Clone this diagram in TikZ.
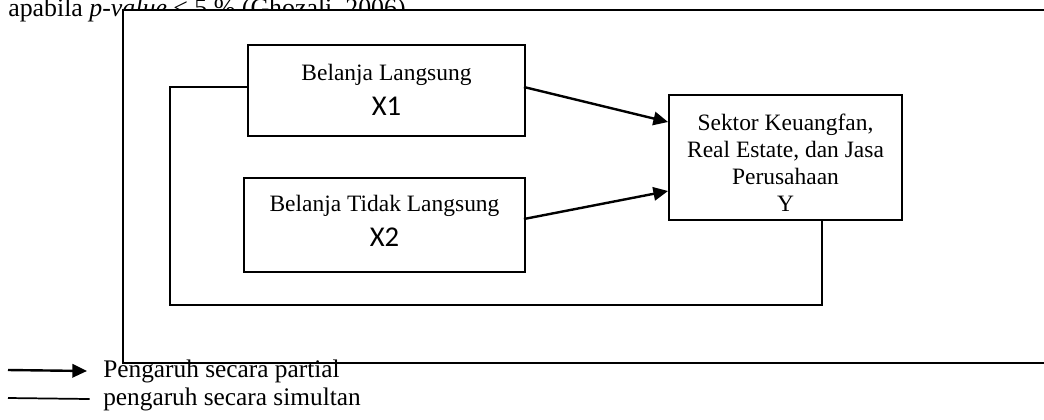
\documentclass[tikz,border=0pt]{standalone}
\usepackage{fontspec}
\setmainfont{Liberation Serif}
\newfontfamily\calib{Carlito}
\usetikzlibrary{arrows.meta,calc}
\begin{document}
\begin{tikzpicture}[x=0.75pt,y=-0.75pt,
  box/.style={draw,line width=1.4pt,inner sep=0pt},
  txt/.style={align=center,inner sep=0pt,font=\fontsize{17.6}{20.3}\selectfont},
  conn/.style={line width=1.3pt},
  arr/.style={line width=1.8pt,-{Triangle[length=11pt,width=10pt]}},
  legtext/.style={anchor=west,inner sep=0pt,font=\fontsize{19}{22}\selectfont}]
\useasboundingbox (0,0) rectangle (1044,419);
% top text (partly hidden by the frame)
\node[anchor=base west,inner sep=0pt,font=\fontsize{19.4}{22}\selectfont] (top) at (8,16.5)
  {apabila \textit{p-value} < 5 \% (Ghozali, 2006)};
% frame
\draw[line width=1.4pt,fill=white] (123,10) rectangle (1060,363);
% boxes
\node[box,minimum width=277*0.75pt,minimum height=91*0.75pt] (x1) at (386.5,90.5) {};
\node[box,minimum width=281*0.75pt,minimum height=94*0.75pt] (x2) at (384.5,225) {};
\node[box,minimum width=233*0.75pt,minimum height=125*0.75pt] (y) at (785.5,157.5) {};
\node[txt] (x1t) at ($(x1.center)+(0,-1)$)
  {Belanja Langsung\\[6pt]{\calib\fontsize{21.5}{24}\selectfont X1}};
\node[txt] (x2t) at ($(x2.center)+(0,-4)$)
  {Belanja Tidak Langsung\\[6pt]{\calib\fontsize{21.5}{24}\selectfont X2}};
\node[txt] (yt) at ($(y.center)+(0,5)$)
  {Sektor Keuangfan,\\ Real Estate, dan Jasa\\ Perusahaan\\ Y};
% simultaneous connectors
\coordinate (L) at (170,305);
\coordinate (yb) at ($(y.south)+(36.5,0)$);
\draw[conn] ($(x1.west)+(0,-3.5)$) -| (L) -| (yb);
\draw[conn] ($(x2.west)+(0,-5)$) -- ($(x2.west)+(0,-5)$ -| L);
% partial arrows
\draw[arr] ($(x1.east)+(-2,-3.5)$) -- ($(y.west)+(0,-35.5)$);
\draw[arr] ($(x2.east)+(-2,-6)$) -- ($(y.west)+(0,33.5)$);
% legend
\node[legtext] (lp) at (103,371) {Pengaruh secara partial};
\node[legtext] (ls) at (103,399) {pengaruh secara simultan};
\coordinate (la) at (8,370);
\coordinate (lb) at (8,398);
\draw[arr] (la) -- ([xshift=-12pt]lp.west);
\draw[conn] (lb) -- ([xshift=-10pt]ls.west);
\end{tikzpicture}
\end{document}
